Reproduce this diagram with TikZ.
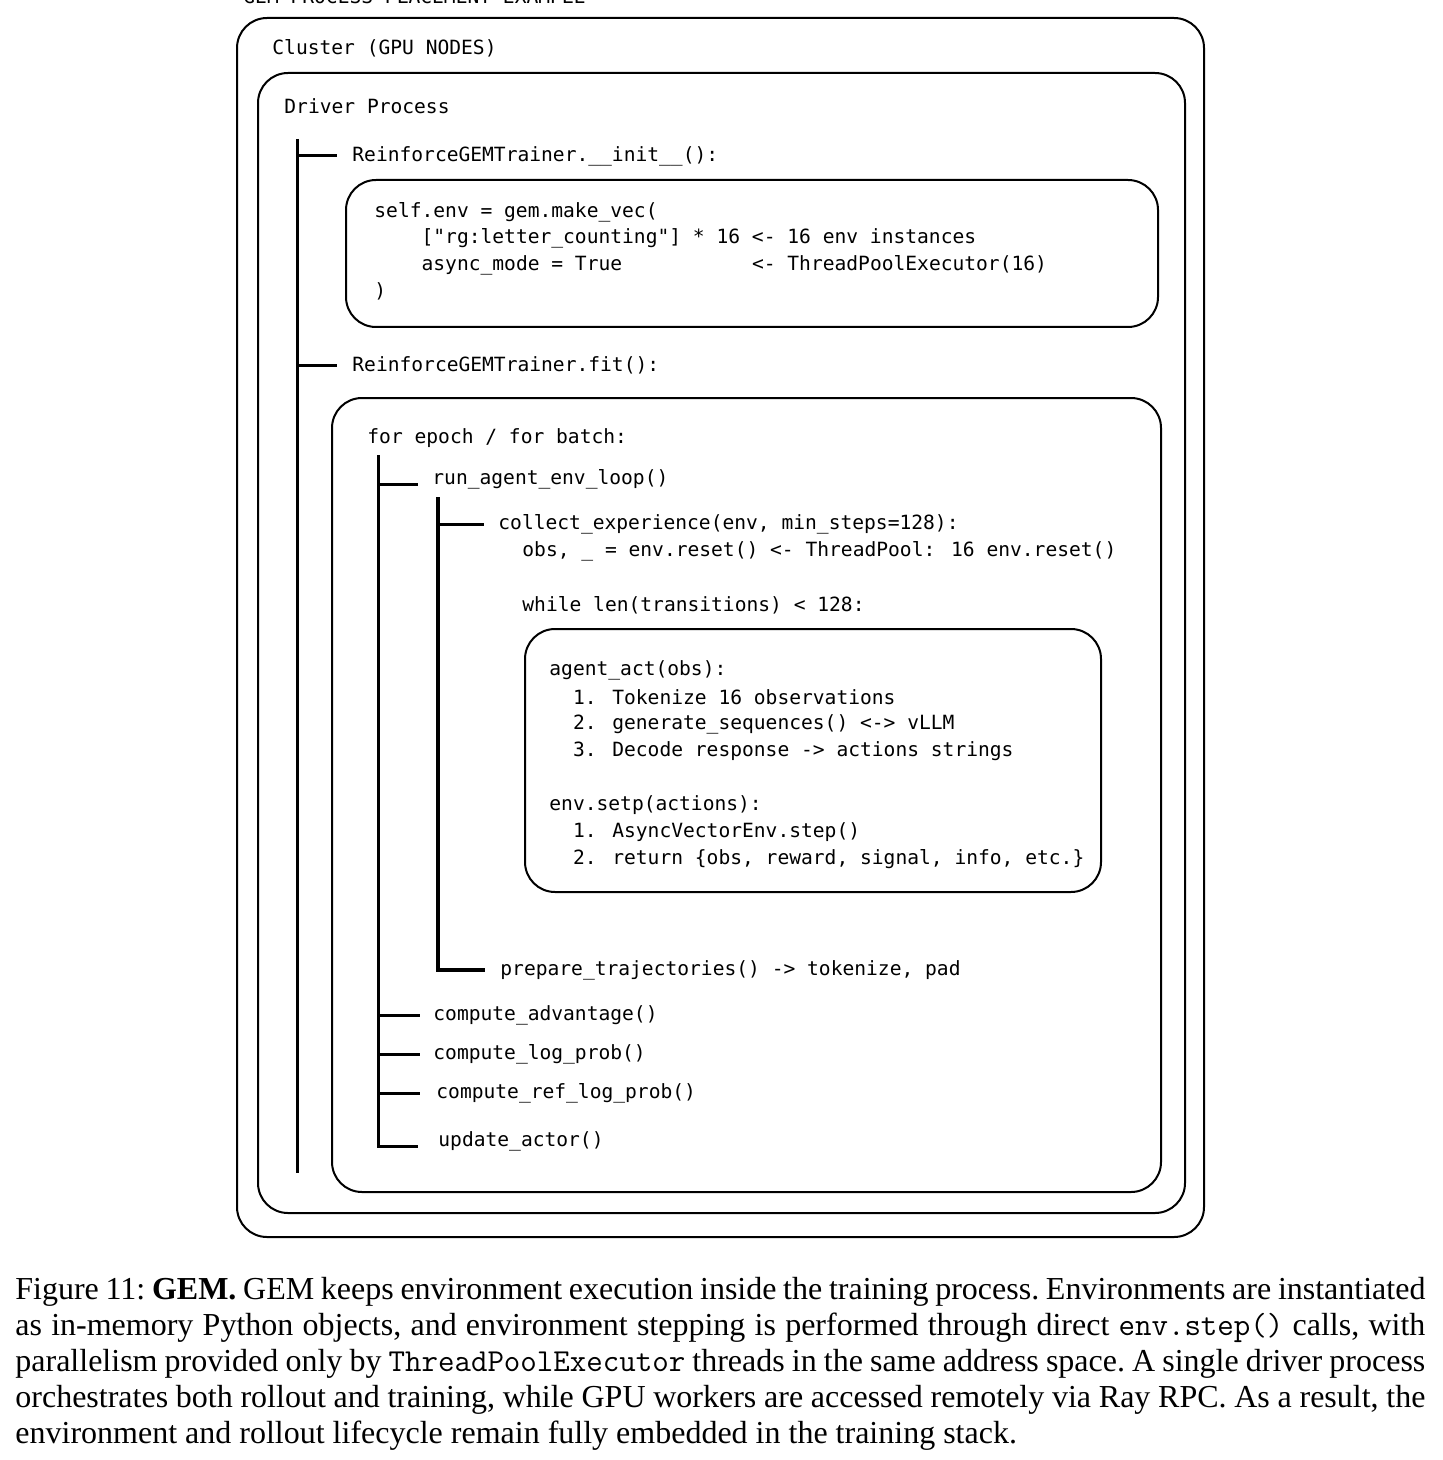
\documentclass[tikz,border=0pt]{standalone}
\usepackage{fontspec}
\setmainfont{Liberation Serif}
\newfontfamily\codefam{DejaVu Sans Mono}
\newcommand\codefont{\codefam\fontsize{9.8}{12}\selectfont}
\newcommand\capfont{\fontsize{16}{18}\selectfont\frenchspacing}
\newcommand\gap[1]{\hspace*{#1\fontcharwd\font`x}}

\begin{document}
\begin{tikzpicture}[x=0.5pt, y=-0.5pt,
  box/.style = {draw, line width=1pt, rounded corners=15pt},
  code/.style = {font=\codefont, anchor=west, inner sep=0pt},
  title/.style = {code, anchor=base west},
  trunk/.style = {line width=1.5pt},
  caption/.style = {font=\capfont, anchor=west, inner sep=0pt},
  ]
  \useasboundingbox (0,0) rectangle (1442,1460);

  % nested containers
  \draw[box] (237,18) rectangle (1204,1237);
  \draw[box] (258,73) rectangle (1185,1213);
  \draw[box] (346,180) rectangle (1158,327);
  \draw[box] (332,398) rectangle (1161,1192);
  \draw[box] (525,629) rectangle (1101,892);

  \node[title] (title) at (243,4) {GEM PROCESS PLACEMENT EXAMPLE};
  \node[code] (cluster) at (272,48) {Cluster (GPU NODES)};
  \node[code] (driver) at (284,106) {Driver Process};

  % trainer.__init__
  \node[code] (init) at (352,156) {ReinforceGEMTrainer.\_\_init\_\_():};
  \node[code] (mk1) at (374,212) {self.env = gem.make\_vec(};
  \node[code] (mk2) at (374,238) {\gap4["rg:letter\_counting"] * 16 <- 16 env instances};
  \node[code] (mk3) at (374,265) {\gap4async\_mode = True\gap{11}<- ThreadPoolExecutor(16)};
  \node[code] (mk4) at (374,291) {)};

  % trainer.fit
  \node[code] (fit) at (352,365) {ReinforceGEMTrainer.fit():};
  \node[code] (loop) at (367,438) {for epoch / for batch:};
  \node[code] (run) at (432,479) {run\_agent\_env\_loop()};
  \node[code] (collect) at (498,524) {collect\_experience(env, min\_steps=128):};
  \node[code] (reset) at (522,551) {obs, \_ = env.reset() <- ThreadPool: 16 env.reset()};
  \node[code] (while) at (522,605) {while len(transitions) < 128:};

  \node[code] (act) at (549,670) {agent\_act(obs):};
  \node[code] (act1) at (549,697) {\gap{2}1. Tokenize 16 observations};
  \node[code] (act2) at (549,724) {\gap{2}2. generate\_sequences() <-> vLLM};
  \node[code] (act3) at (549,751) {\gap{2}3. Decode response -> actions strings};
  \node[code] (step) at (549,805) {env.setp(actions):};
  \node[code] (step1) at (549,832) {\gap{2}1. AsyncVectorEnv.step()};
  \node[code] (step2) at (549,859) {\gap{2}2. return \{obs, reward, signal, info, etc.\}};

  \node[code] (prep) at (500,970) {prepare\_trajectories() -> tokenize, pad};
  \node[code] (adv) at (433,1015) {compute\_advantage()};
  \node[code] (logp) at (433,1054) {compute\_log\_prob()};
  \node[code] (reflogp) at (436,1093) {compute\_ref\_log\_prob()};
  \node[code] (update) at (438,1141) {update\_actor()};

  % tree lines
  \coordinate (t1) at (297,139);
  \coordinate (t1end) at (297,1173);
  \coordinate (t2) at (378,455);
  \coordinate (t3) at (438,497);
  \draw[trunk] (t1) -- (t1end);
  \draw[trunk] (t1 |- init) -- ([xshift=-7.5pt]init.west);
  \draw[trunk] (t1 |- fit) -- ([xshift=-7.5pt]fit.west);
  \draw[trunk] (t2) |- ([xshift=-10pt,yshift=-2.5pt]update.west);
  \draw[trunk] (t2 |- run) ++(0,5) -- ([xshift=-7pt,yshift=-2.5pt]run.west);
  \draw[trunk] (t2 |- adv) -- ([xshift=-6.5pt]adv.west);
  \draw[trunk] (t2 |- logp) -- ([xshift=-6.5pt]logp.west);
  \draw[trunk] (t2 |- reflogp) -- ([xshift=-8pt]reflogp.west);
  \draw[line width=2pt] (t3) |- ([xshift=-7.5pt]prep.west);
  \draw[trunk] (t3 |- collect) -- ([xshift=-7pt]collect.west);

  % caption
  \node[caption] (cap1) at (15,1292) {\hbox to 705pt{Figure 11: \textbf{GEM.} GEM keeps environment execution inside the training process. Environments are instantiated}};
  \node[caption] (cap2) at (15,1328) {\hbox to 705pt{as in-memory Python objects, and environment stepping is performed through direct \texttt{env.step()} calls, with}};
  \node[caption] (cap3) at (15,1364) {\hbox to 705pt{parallelism provided only by \texttt{ThreadPoolExecutor} threads in the same address space. A single driver process}};
  \node[caption] (cap4) at (15,1400) {\hbox to 705pt{orchestrates both rollout and training, while GPU workers are accessed remotely via Ray RPC. As a result, the}};
  \node[caption] (cap5) at (15,1436) {environment and rollout lifecycle remain fully embedded in the training stack.};
\end{tikzpicture}
\end{document}
